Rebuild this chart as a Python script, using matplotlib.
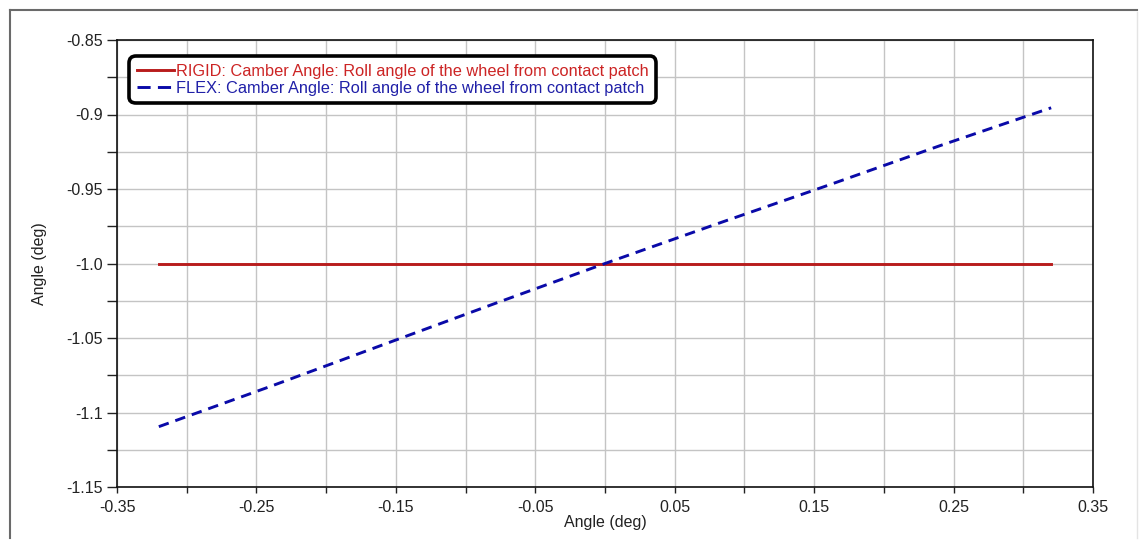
import matplotlib
matplotlib.use("Agg")
import matplotlib.pyplot as plt
from matplotlib.lines import Line2D

plt.rcParams['font.family'] = ['Liberation Sans', 'DejaVu Sans']

# Data
rigid_x = [-0.32, 0.32]
rigid_y = [-1.0, -1.0]
flex_x = [-0.32, -0.24, -0.16, -0.08, 0.0, 0.08, 0.16, 0.24, 0.32]
flex_y = [-1.1095, -1.0825, -1.0548, -1.0272, -1.0, -0.9735, -0.9475, -0.921, -0.8955]
rigid_label = "RIGID: Camber Angle: Roll angle of the wheel from contact patch"
flex_label = "FLEX: Camber Angle: Roll angle of the wheel from contact patch"
xtick_major = [-0.35, -0.25, -0.15, -0.05, 0.05, 0.15, 0.25, 0.35]
xtick_labels = ["-0.35", "-0.25", "-0.15", "-0.05", "0.05", "0.15", "0.25", "0.35"]
xtick_minor = [-0.3, -0.2, -0.1, 0.0, 0.1, 0.2, 0.3]
ytick_major = [-0.85, -0.9, -0.95, -1.0, -1.05, -1.1, -1.15]
ytick_labels = ["-0.85", "-0.9", "-0.95", "-1.0", "-1.05", "-1.1", "-1.15"]
ytick_minor = [-0.875, -0.925, -0.975, -1.025, -1.075, -1.125]

W, H = 1140, 540
fig = plt.figure(figsize=(W / 100, H / 100), dpi=100)

# outer window-like frame
fig.add_artist(Line2D([10 / W, 1137 / W], [1 - 10 / H, 1 - 10 / H], color="#6a6a6a", lw=1.5, transform=fig.transFigure))
fig.add_artist(Line2D([10 / W, 10 / W], [1 - 10 / H, 1 - 538 / H], color="#6a6a6a", lw=1.5, transform=fig.transFigure))
fig.add_artist(Line2D([1137 / W, 1137 / W], [1 - 12 / H, 1 - 538 / H], color="#e4e4e4", lw=1.0, transform=fig.transFigure))

left, right, top, bottom = 117, 1093, 40, 487
ax = fig.add_axes([left / W, 1 - bottom / H, (right - left) / W, (bottom - top) / H])

FS = 11.5
LFS = 11.8
ax.plot(rigid_x, rigid_y, color="#b81c1c", lw=2.1, label=rigid_label, zorder=3)
ax.plot(flex_x, flex_y, color="#0a0aa8", lw=2.1, dashes=(3.6, 2.4), label=flex_label, zorder=4)

ax.set_xlim(-0.35, 0.35)
ax.set_ylim(-1.15, -0.85)
ax.set_xticks(xtick_major)
ax.set_xticklabels(xtick_labels)
ax.set_xticks(xtick_minor, minor=True)
ax.set_yticks(ytick_major)
ax.set_yticklabels(ytick_labels)
ax.set_yticks(ytick_minor, minor=True)
ax.grid(True, which="both", color="#c4c4c4", lw=1.0, zorder=0)
ax.set_axisbelow(True)
ax.tick_params(axis="x", which="both", length=4, width=1, direction="out", labelsize=FS, pad=5, colors="#222222")
ax.tick_params(axis="y", which="both", length=7, width=1, direction="out", labelsize=FS, pad=3, colors="#222222")
for s in ax.spines.values():
    s.set_color("#111111")
    s.set_linewidth(1.2)

ax.set_xlabel("Angle (deg)", fontsize=FS, color="#222222", labelpad=0)
ax.set_ylabel("Angle (deg)", fontsize=FS, color="#222222", labelpad=14)

leg = ax.legend(loc="upper left", bbox_to_anchor=(131 / W, 1 - 58 / H), bbox_transform=fig.transFigure,
                fontsize=LFS, handlelength=2.3, handletextpad=0.1, borderpad=0.35, labelspacing=0.12,
                fancybox=True, framealpha=1, borderaxespad=0)
leg.get_frame().set_edgecolor("black")
leg.get_frame().set_linewidth(2.6)
leg.get_frame().set_boxstyle("round,pad=0.1,rounding_size=0.4")
for t, c in zip(leg.get_texts(), ["#cc2424", "#2020a8"]):
    t.set_color(c)
leg.get_lines()[1].set_dashes((4.5, 2.5))

fig.savefig("out.png", dpi=100)
